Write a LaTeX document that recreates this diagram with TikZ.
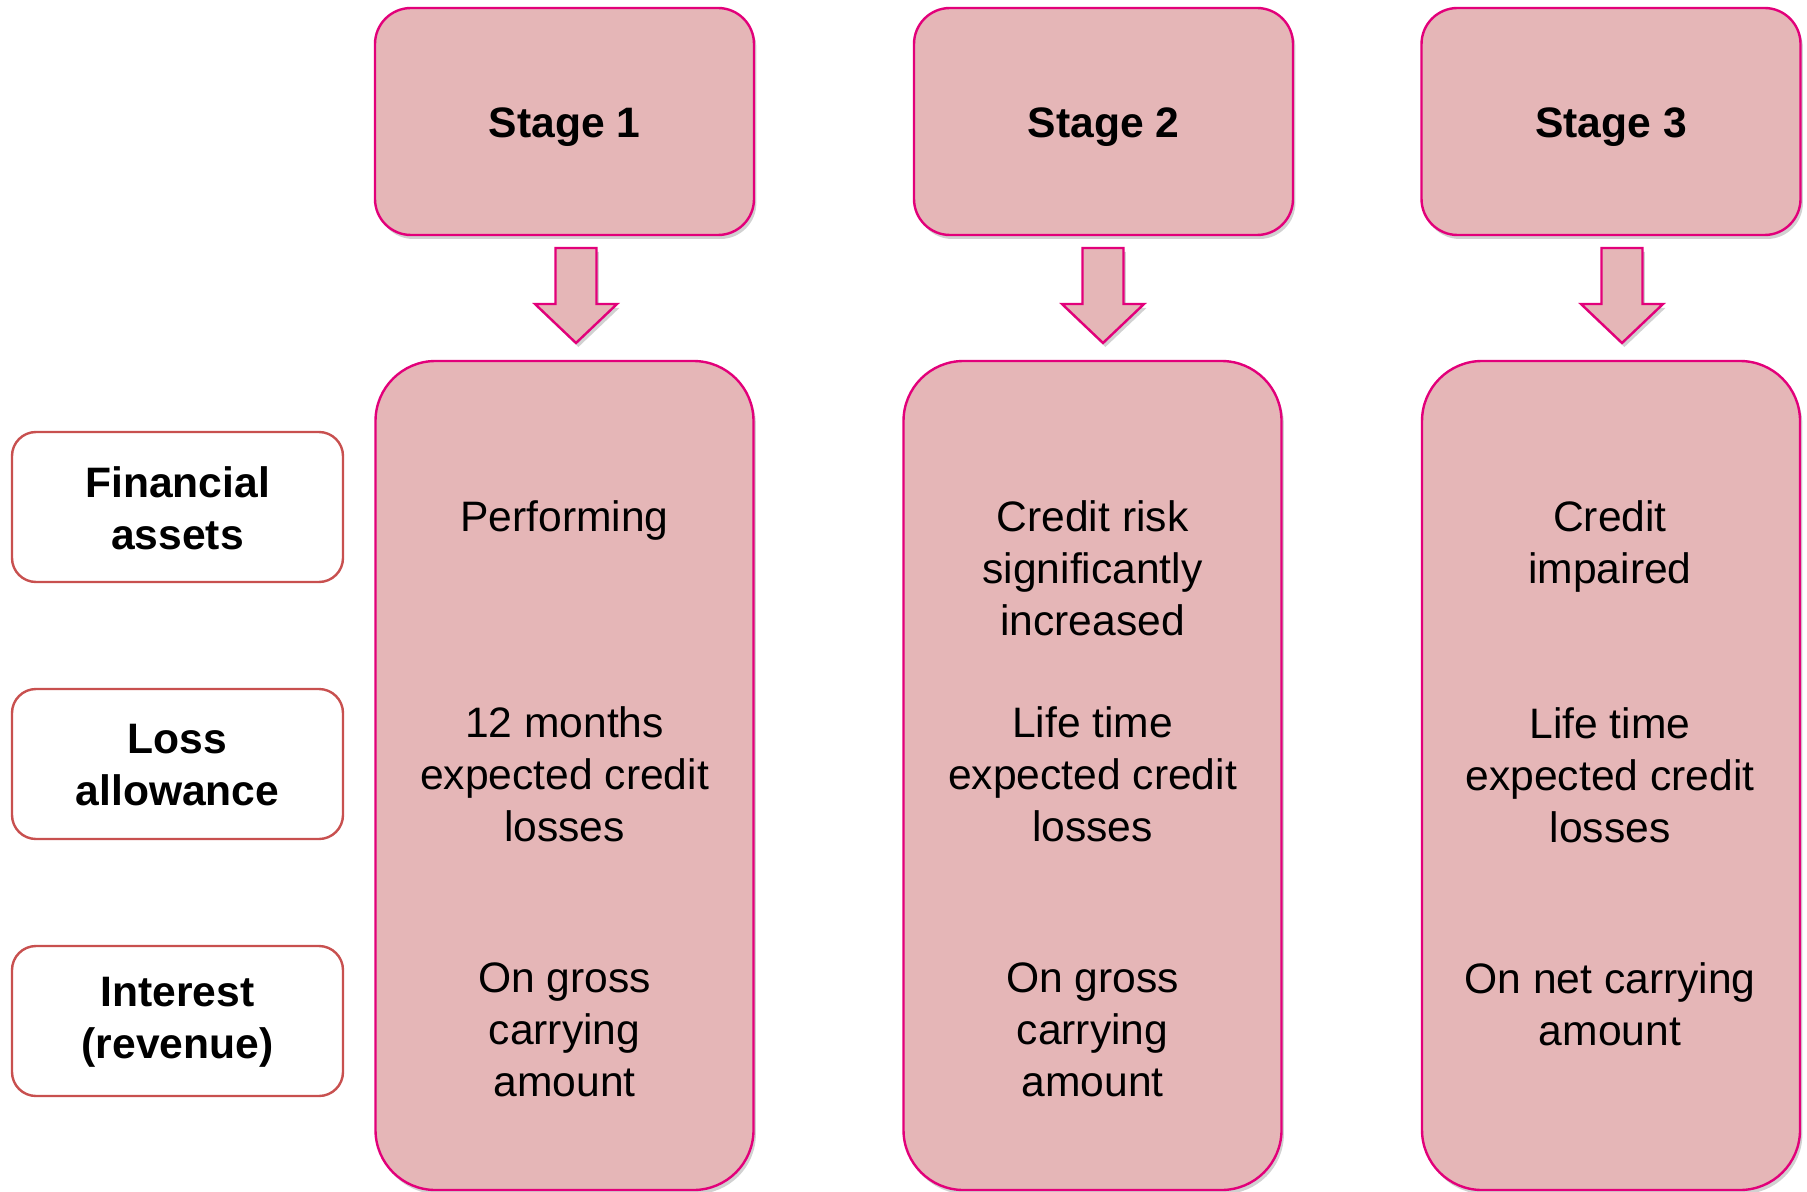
\documentclass[tikz,border=0pt]{standalone}
\usepackage{fontspec}
\setmainfont{Liberation Sans}
\usetikzlibrary{shadows}
\definecolor{stagefill}{HTML}{E5B6B7}
\definecolor{stageline}{HTML}{E2007A}
\definecolor{labelline}{HTML}{C8504F}
\tikzset{
  shade/.style={drop shadow={shadow xshift=1.2pt, shadow yshift=-2pt, opacity=0.3, fill=black!60}},
  stagehead/.style={draw=stageline, fill=stagefill, line width=1.2pt, rounded corners=18pt,
    minimum width=189.5pt, minimum height=113.5pt, inner sep=0pt, outer sep=0pt, shade},
  stagebody/.style={draw=stageline, fill=stagefill, line width=1.2pt, rounded corners=30pt,
    minimum width=189pt, minimum height=414.5pt, inner sep=0pt, outer sep=0pt, shade},
  rowlabel/.style={draw=labelline, fill=white, line width=1.2pt, rounded corners=12pt,
    minimum width=165.5pt, minimum height=75pt, inner sep=0pt, outer sep=0pt},
  celltext/.style={align=center, inner sep=0pt, font=\fontsize{21.3}{26}\selectfont},
  boldtext/.style={celltext, font=\bfseries\fontsize{21.3}{26}\selectfont},
  blockarrow/.style={draw=stageline, fill=stagefill, line width=1.2pt, line join=miter, shade},
  pics/downarrow/.style={code={
    \path[blockarrow] (-20.5,0) -- (20.5,0) -- (20.5,56) -- (41,56) -- (0,95)
      -- (-41,56) -- (-20.5,56) -- cycle;}}
}
\begin{document}
\begin{tikzpicture}[x=0.5pt, y=-0.5pt]
\useasboundingbox (0,0) rectangle (1807,1192);

% stage headers
\node[stagehead] (s1) at (564.5,121.5) {};
\node[stagehead] (s2) at (1103.5,121.5) {};
\node[stagehead] (s3) at (1611,121.5) {};
\node[boldtext] (h1) at (564.5,127) {Stage 1};
\node[boldtext] (h2) at (1103.5,127) {Stage 2};
\node[boldtext] (h3) at (1611,127) {Stage 3};

% arrows from headers down to the stage columns
\coordinate (a1) at (576,248);
\coordinate (a2) at (1103,248);
\coordinate (a3) at (1622,248);
\pic at (a1) {downarrow};
\pic at (a2) {downarrow};
\pic at (a3) {downarrow};

% stage columns
\node[stagebody] (c1) at (564.5,775.5) {};
\node[stagebody] (c2) at (1092.5,775.5) {};
\node[stagebody] (c3) at (1611,775.5) {};

% row labels
\node[rowlabel] (rfa) at (177.5,507) {};
\node[rowlabel] (rla) at (177.5,764) {};
\node[rowlabel] (rir) at (177.5,1021) {};
\node[boldtext] (lfa) at (177.5,508.5) {Financial\\assets};
\node[boldtext] (lla) at (177.5,765.5) {Loss\\allowance};
\node[boldtext] (lir) at (177.5,1022.5) {Interest\\(revenue)};

% stage 1 cells
\node[celltext] (t11) at (564.5,520.5) {Performing};
\node[celltext] (t12) at (564.5,774.5) {12 months\\expected credit\\losses};
\node[celltext] (t13) at (564.5,1030) {On gross\\carrying\\amount};

% stage 2 cells
\node[celltext] (t21) at (1092.5,568.5) {Credit risk\\significantly\\increased};
\node[celltext] (t22) at (1092.5,774.5) {Life time\\expected credit\\losses};
\node[celltext] (t23) at (1092.5,1030) {On gross\\carrying\\amount};

% stage 3 cells
\node[celltext] (t31) at (1610,546) {Credit\\impaired};
\node[celltext] (t32) at (1610,775.5) {Life time\\expected credit\\losses};
\node[celltext] (t33) at (1610,1004.5) {On net carrying\\amount};
\end{tikzpicture}
\end{document}
